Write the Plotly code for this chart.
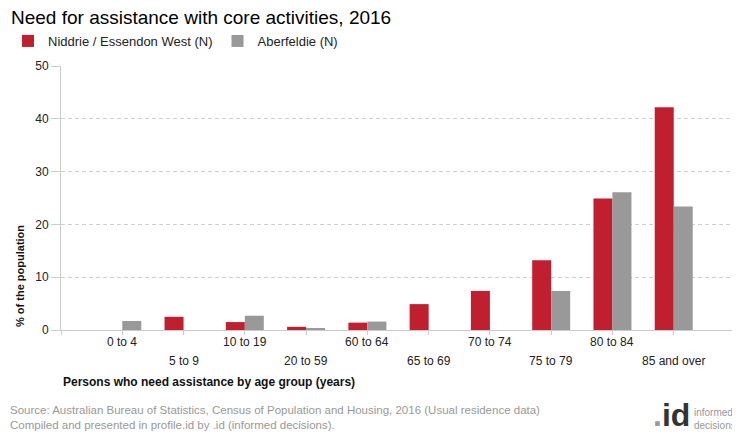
import plotly.graph_objects as go

categories = ["0 to 4", "5 to 9", "10 to 19", "20 to 59", "60 to 64",
              "65 to 69", "70 to 74", "75 to 79", "80 to 84", "85 and over"]
niddrie = [None, 2.5, 1.5, 0.6, 1.4, 4.9, 7.4, 13.2, 24.9, 42.2]
aberfeldie = [1.7, None, 2.7, 0.2, 1.6, None, None, 7.4, 26.1, 23.4]
y_ticks = [0, 10, 20, 30, 40, 50]

series_names = ["Niddrie / Essendon West (N)", "Aberfeldie (N)"]
colors = ["#C01F2F", "#999999"]

x_pos = list(range(len(categories)))

# page body has an 8px margin, so the figure is sized to the visible area
OFF = 8
W, H = 740 - OFF, 440 - OFF
# plot area in screen pixels: x 61..735, y 66..330
L, R, T, B = 61 - OFF, 740 - 735, 66 - OFF, 440 - 330
PW, PH = W - L - R, H - T - B


def px(sx):
    return (sx - OFF - L) / PW


def py(sy):
    return (H - B - (sy - OFF)) / PH


fig = go.Figure()
for name, vals, col in zip(series_names, [niddrie, aberfeldie], colors):
    fig.add_trace(go.Bar(x=x_pos, y=vals, name=name, marker=dict(color=col, line=dict(width=0)),
                         hovertemplate="%{y}<extra>" + name + "</extra>"))

font = "Arial, Liberation Sans, sans-serif"

annotations = []
for i, c in enumerate(categories):
    annotations.append(dict(x=i, y=py(342 if i % 2 == 0 else 361), xref="x", yref="paper",
                            text=c, showarrow=False, yanchor="middle", xanchor="center",
                            font=dict(size=12, color="#222", family=font)))

annotations += [
    dict(text="Need for assistance with core activities, 2016", x=px(9), y=py(18),
         xref="paper", yref="paper", showarrow=False, xanchor="left", yanchor="middle",
         font=dict(size=19, color="#000", family=font)),
    dict(text="<b>% of the population</b>", x=px(20), y=py(276), textangle=-90,
         xref="paper", yref="paper", showarrow=False, xanchor="center", yanchor="middle",
         font=dict(size=11, color="#111", family=font)),
    dict(text="<b>Persons who need assistance by age group (years)</b>", x=px(61), y=py(382),
         xref="paper", yref="paper", showarrow=False, xanchor="left", yanchor="middle",
         font=dict(size=12, color="#111", family=font)),
    dict(text="Source: Australian Bureau of Statistics, Census of Population and Housing, 2016 (Usual residence data)<br>Compiled and presented in profile.id by .id (informed decisions).",
         x=px(8), y=py(402), xref="paper", yref="paper", showarrow=False,
         xanchor="left", yanchor="top", align="left",
         font=dict(size=11.5, color="#999", family=font)),
    dict(text="<b><span style='color:#999'>.</span>id</b>", x=px(692), y=py(415),
         xref="paper", yref="paper", showarrow=False, xanchor="right", yanchor="middle",
         font=dict(size=32, color="#333", family=font)),
    dict(text="informed<br>decisions", x=px(692), y=py(419),
         xref="paper", yref="paper", showarrow=False, xanchor="left", yanchor="middle",
         align="left", font=dict(size=10, color="#999", family=font)),
]

fig.update_layout(
    width=W, height=H,
    margin=dict(l=L, r=R, t=T, b=B, autoexpand=False),
    paper_bgcolor="white", plot_bgcolor="white",
    barmode="group", bargap=0.38, bargroupgap=0.0,
    font=dict(family=font, size=12, color="#222"),
    showlegend=True,
    legend=dict(orientation="h", xref="container", yref="container", x=-8 / W, y=1 - 18 / H,
                xanchor="left", yanchor="top", font=dict(size=13, color="#222", family=font),
                itemwidth=30, traceorder="normal"),
    xaxis=dict(range=[-1, 10], tickvals=[-1] + x_pos + [10], ticktext=[""] * (len(x_pos) + 2),
               showgrid=False, showline=True, linecolor="#ccc", linewidth=1, automargin=False,
               ticks="outside", ticklen=4, tickcolor="#ccc", zeroline=False, fixedrange=True),
    yaxis=dict(range=[0, 50], tickvals=y_ticks, showgrid=True, gridcolor="#d0d0d0",
               griddash="4px,3px", gridwidth=1, showline=True, linecolor="#ccc", linewidth=1,
               ticks="outside", ticklen=9, tickcolor="#ccc", zeroline=False, automargin=False,
               tickfont=dict(size=12, color="#222")),
    annotations=annotations,
)

fig.write_html("out.html")
